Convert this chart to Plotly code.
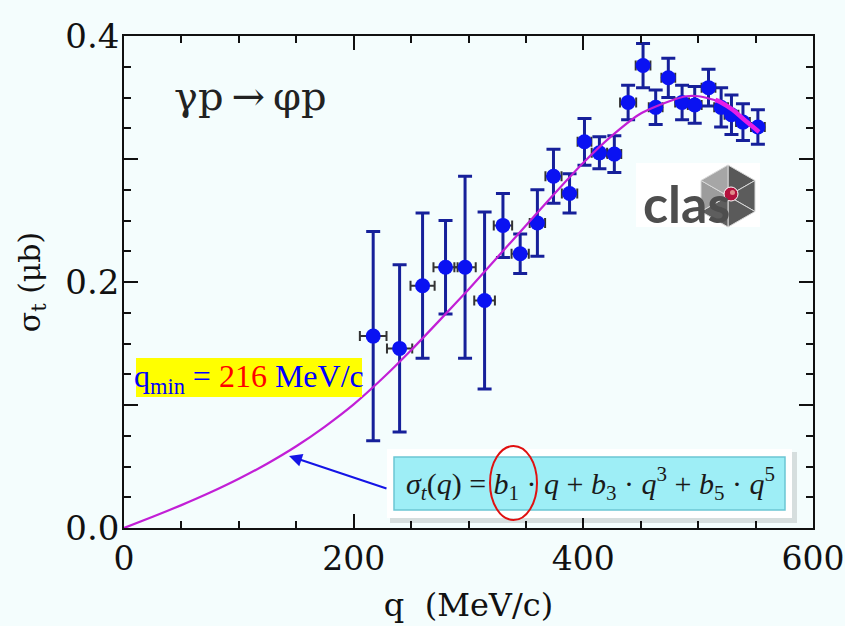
import plotly.graph_objects as go

# ---------------- data ----------------
q_vals = [217, 240, 260, 280, 297, 314, 330, 345, 360, 374, 388, 401, 414,
          427, 439, 452, 463, 474, 486, 497, 509, 520, 529, 539, 552]
sigma_vals = [0.156, 0.146, 0.197, 0.212, 0.212, 0.185, 0.246, 0.223, 0.248,
              0.286, 0.272, 0.314, 0.305, 0.304, 0.346, 0.376, 0.342, 0.366,
              0.346, 0.344, 0.358, 0.342, 0.336, 0.330, 0.326]
sigma_err = [0.085, 0.068, 0.059, 0.038, 0.074, 0.072, 0.026, 0.016, 0.027,
             0.022, 0.016, 0.019, 0.013, 0.015, 0.014, 0.018, 0.014, 0.016,
             0.014, 0.015, 0.015, 0.016, 0.016, 0.015, 0.014]
q_err = [11.6, 11.0, 10.5, 10.5, 9.3, 9.0, 8.0, 7.5, 6.7, 7.0, 6.7, 6.0, 6.7,
         6.0, 7.0, 6.4, 6.0, 6.0, 6.0, 6.0, 6.0, 6.0, 6.0, 6.0, 6.0]

# fit curve sigma_t(q) = b1 q + b3 q^3 + b5 q^5
fit_q = [0, 25, 50, 75, 100, 125, 150, 175, 200, 225, 250, 275, 300, 325,
         350, 375, 400, 425, 450, 475, 490, 500, 510, 520, 530, 540, 552]
fit_s = [0, 0.0092, 0.0186, 0.0288, 0.0400, 0.0525, 0.0665, 0.0825, 0.1005,
         0.1215, 0.1445, 0.169, 0.194, 0.220, 0.246, 0.272, 0.297, 0.319,
         0.337, 0.347, 0.351, 0.351, 0.349, 0.346, 0.340, 0.333, 0.324]
seg_q = [515, 520, 530, 540, 553]
seg_s = [0.348, 0.346, 0.340, 0.332, 0.322]

x_ticks = [0, 200, 400, 600]
x_ticktext = ["0", "200", "400", "600"]
y_ticks = [0, 0.1, 0.2, 0.3, 0.4]
y_ticktext = ["0.0", "", "0.2", "", "0.4"]

# ---------------- layout geometry ----------------
W, H = 845, 626
L, R, T, B = 124, 32, 36, 98
PW, PH = W - L - R, H - T - B
XMAX, YMAX = 600, 0.4


def X(px):
    return (px - L) * XMAX / PW


def Y(py):
    return (H - B - py) * YMAX / PH


BG = "#f4fdfd"
SERIF = "DejaVu Serif"

fig = go.Figure()

fig.add_trace(go.Scatter(
    x=q_vals, y=sigma_vals, mode="markers",
    marker=dict(color="#0a12f2", size=15, line=dict(width=0)),
    error_y=dict(type="data", array=sigma_err, color="#16209a",
                 thickness=3, width=7),
    error_x=dict(type="data", array=q_err, color="#333333",
                 thickness=2, width=5),
    showlegend=False, hoverinfo="skip"))

fig.add_trace(go.Scatter(
    x=fit_q, y=fit_s, mode="lines",
    line=dict(color="#c21fd6", width=2.2, shape="spline", smoothing=0.6),
    showlegend=False, hoverinfo="skip"))
fig.add_trace(go.Scatter(
    x=seg_q, y=seg_s, mode="lines",
    line=dict(color="#e61ee6", width=4.5, shape="spline"),
    showlegend=False, hoverinfo="skip"))

shapes = []
# yellow q_min box
shapes.append(dict(type="rect", xref="x", yref="y", x0=X(136), x1=X(362),
                   y0=Y(397), y1=Y(358), fillcolor="#ffff00",
                   line=dict(width=0), layer="above"))
# formula box: shadow, white frame, cyan face
shapes.append(dict(type="rect", xref="x", yref="y", x0=X(390), x1=X(797),
                   y0=Y(523), y1=Y(452), fillcolor="rgba(0,0,0,0.12)",
                   line=dict(width=0), layer="above"))
shapes.append(dict(type="rect", xref="x", yref="y", x0=X(387), x1=X(792),
                   y0=Y(518), y1=Y(449), fillcolor="#ffffff",
                   line=dict(width=0), layer="above"))
shapes.append(dict(type="rect", xref="x", yref="y", x0=X(394), x1=X(785),
                   y0=Y(510), y1=Y(457), fillcolor="#9eeef6",
                   line=dict(color="#6cc6d4", width=1.5), layer="above"))
# red ellipse around b1
shapes.append(dict(type="circle", xref="x", yref="y", x0=X(490), x1=X(537),
                   y0=Y(520), y1=Y(446), fillcolor="rgba(0,0,0,0)",
                   line=dict(color="#e01010", width=2), layer="above"))

# CLAS logo: white patch + hexagon
shapes.append(dict(type="rect", xref="x", yref="y", x0=X(636), x1=X(760),
                   y0=Y(227), y1=Y(163), fillcolor="#ffffff",
                   line=dict(width=0), layer="above"))
cx, cy = 728, 196
verts = [(728, 165), (755, 180.5), (755, 211.5), (728, 227), (701, 211.5),
         (701, 180.5)]
sector_cols = ["#585858", "#5c5c5c", "#5a5a5a", "#5e5e5e", "#9c9c9c",
               "#a6a6a6"]
for i in range(6):
    a = verts[i]
    b = verts[(i + 1) % 6]
    path = "M {} {} L {} {} L {} {} Z".format(X(cx), Y(cy), X(a[0]), Y(a[1]),
                                              X(b[0]), Y(b[1]))
    shapes.append(dict(type="path", xref="x", yref="y", path=path,
                       fillcolor=sector_cols[i],
                       line=dict(color="#d8d8d8", width=1), layer="above"))
shapes.append(dict(type="circle", xref="x", yref="y", x0=X(724), x1=X(738),
                   y0=Y(201), y1=Y(187), fillcolor="#b3123d",
                   line=dict(color="#ffffff", width=1), layer="above"))
shapes.append(dict(type="circle", xref="x", yref="y", x0=X(730), x1=X(735),
                   y0=Y(195), y1=Y(190), fillcolor="#e08a8a",
                   line=dict(width=0), layer="above"))

annotations = []
annotations.append(dict(
    xref="x", yref="y", x=X(250), y=Y(96), showarrow=False,
    text="γp\u2009→\u2009φp",
    font=dict(family=SERIF, size=40, color="#222222")))
annotations.append(dict(
    xref="x", yref="y", x=X(249), y=Y(378), showarrow=False,
    text=("<span style='color:#0000ff'>q<sub>min</sub> = </span>"
          "<span style='color:#ff0000'>216</span>"
          "<span style='color:#0000ff'> MeV/c</span>"),
    font=dict(family="Liberation Serif", size=32, color="#0000ff")))
annotations.append(dict(
    xref="x", yref="y", x=X(590), y=Y(483), showarrow=False,
    text=("<i>σ</i><sub><i>t</i></sub>(<i>q</i>) = <i>b</i><sub>1</sub> · "
          "<i>q</i> + <i>b</i><sub>3</sub> · <i>q</i><sup>3</sup> + "
          "<i>b</i><sub>5</sub> · <i>q</i><sup>5</sup>"),
    font=dict(family="Liberation Serif", size=30, color="#1a1a1a")))
annotations.append(dict(
    xref="x", yref="y", x=X(289), y=Y(456), axref="x", ayref="y",
    ax=X(388), ay=Y(489), text="", showarrow=True, arrowhead=2,
    arrowsize=1.3, arrowwidth=2, arrowcolor="#1414e6"))
annotations.append(dict(
    xref="x", yref="y", x=X(686), y=Y(203), showarrow=False, text="clas",
    font=dict(family="Lato", size=52, color="#4e4e4e", weight=700)))

fig.update_layout(
    width=W, height=H,
    margin=dict(l=L, r=R, t=T, b=B, autoexpand=False),
    paper_bgcolor=BG, plot_bgcolor=BG,
    shapes=shapes, annotations=annotations,
    xaxis=dict(range=[0, XMAX], tickvals=x_ticks, ticktext=x_ticktext,
               automargin=False, ticklabeloverflow="allow",
               ticks="inside", ticklen=14, tickwidth=1.5, tickcolor="#111",
               minor=dict(dtick=50, ticks="inside", ticklen=7, tickwidth=1.5,
                          tickcolor="#111", showgrid=False),
               showline=True, linecolor="#111", linewidth=1.5,
               mirror="allticks", showgrid=False, zeroline=False,
               ticklabelstandoff=1,
               tickfont=dict(family=SERIF, size=33, color="#111"),
               title=dict(text="q\u00a0\u00a0(MeV/c)", standoff=16,
                          font=dict(family=SERIF, size=32, color="#111"))),
    yaxis=dict(range=[0, YMAX], tickvals=y_ticks, ticktext=y_ticktext,
               automargin=False, ticklabeloverflow="allow",
               ticks="inside", ticklen=14, tickwidth=1.5, tickcolor="#111",
               minor=dict(dtick=0.025, ticks="inside", ticklen=7,
                          tickwidth=1.5, tickcolor="#111", showgrid=False),
               showline=True, linecolor="#111", linewidth=1.5,
               mirror="allticks", showgrid=False, zeroline=False,
               ticklabelstandoff=-4,
               tickfont=dict(family=SERIF, size=34, color="#111"),
               title=dict(text="σ<sub>t</sub>\u00a0(μb)", standoff=16,
                          font=dict(family=SERIF, size=30, color="#111"))),
)

fig.write_html(
    "out.html",
    config={"displayModeBar": False},
    post_script=("document.body.style.margin='0';"
                 "document.body.style.background='" + BG + "';"))
